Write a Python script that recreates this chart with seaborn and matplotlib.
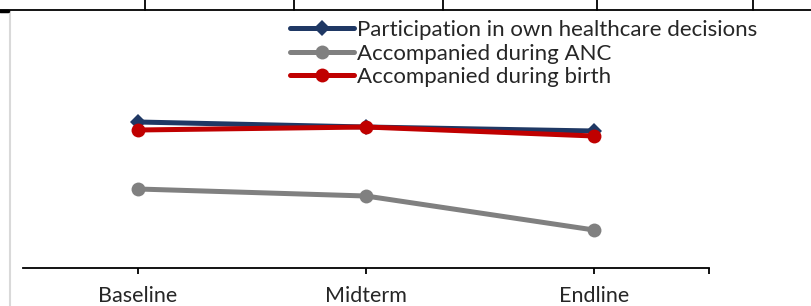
import numpy as np
import pandas as pd
import matplotlib
matplotlib.use("Agg")
import matplotlib.pyplot as plt
from matplotlib.lines import Line2D
import seaborn as sns

# data (percent-like scale)
rounds = ["Baseline", "Midterm", "Endline"]
own_decisions = [58.4, 56.4, 54.8]
accompanied_anc = [31.6, 28.8, 15.2]
accompanied_birth = [55.2, 56.4, 52.8]

series_names = ["Participation in own healthcare decisions",
                "Accompanied during ANC",
                "Accompanied during birth"]
series_values = [own_decisions, accompanied_anc, accompanied_birth]
series_colors = ["#1F3864", "#808080", "#C00000"]
series_markers = ["D", "o", "o"]
series_msize = [8.5, 10, 10]

sns.set_style("white")
plt.rcParams["font.family"] = ["Lato", "DejaVu Sans"]

W, H = 812, 306
fig = plt.figure(figsize=(W / 100, H / 100), dpi=100)

# axes placed in pixel terms: x from 23 to 709, y from 18 to 268
ax = fig.add_axes([23 / W, (H - 268) / H, (709 - 23) / W, (268 - 18) / H])

for name, vals, col, mk, ms in zip(series_names, series_values, series_colors,
                                   series_markers, series_msize):
    df = pd.DataFrame({"round": rounds, "value": vals})
    sns.lineplot(data=df, x="round", y="value", ax=ax, color=col, marker=mk,
                 markersize=ms, markeredgewidth=0, linewidth=3.6, label=name,
                 sort=False)

ax.set_xlim(-0.504, 2.504)
ax.set_ylim(0, 100)
ax.set_xlabel("")
ax.set_ylabel("")
ax.set_yticks([])
for s in ["left", "right", "top"]:
    ax.spines[s].set_visible(False)
ax.spines["bottom"].set_color("black")
ax.spines["bottom"].set_linewidth(1.3)
ax.set_xticks(range(len(rounds)))
ax.set_xticklabels(rounds, fontsize=15.5)
ax.set_xticks([2.504], minor=True)
ax.tick_params(axis="x", which="both", direction="out", length=4, width=1.3,
               color="black", pad=9, bottom=True)

leg = ax.legend(loc="upper left", bbox_to_anchor=(290 / W, 1 - 20 / H),
                bbox_transform=fig.transFigure, frameon=False, fontsize=16,
                handlelength=2.9, handletextpad=0.1, labelspacing=0.16,
                borderpad=0, borderaxespad=0)

# surrounding page / table borders
fig.add_artist(Line2D([10 / W, 10 / W], [0, 1 - 11 / H], color="#d9d9d9",
                      linewidth=1.5, transform=fig.transFigure))
fig.add_artist(Line2D([0, 1], [1 - 10 / H, 1 - 10 / H], color="black",
                      linewidth=1.3, transform=fig.transFigure))
fig.add_artist(Line2D([0, 8 / W], [1 - 11 / H, 1 - 11 / H], color="black",
                      linewidth=2.5, transform=fig.transFigure))
for px in [145, 294, 443, 597, 753]:
    fig.add_artist(Line2D([px / W, px / W], [1 - 10 / H, 1], color="black",
                          linewidth=1.3, transform=fig.transFigure))

fig.savefig("out.png", dpi=100)
